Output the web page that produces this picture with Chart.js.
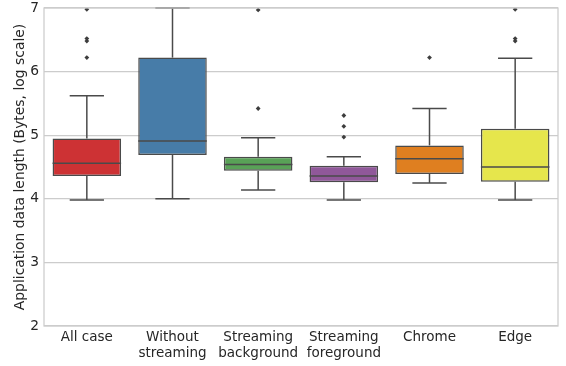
<!DOCTYPE html>
<html>
<head>
<meta charset="utf-8">
<script src="https://cdn.jsdelivr.net/npm/chart.js@4.4.0/dist/chart.umd.min.js"></script>
<style>
html, body { margin: 0; padding: 0; background: #fff; }
#wrap { width: 566px; height: 366px; }
</style>
</head>
<body>
<div id="wrap"><canvas id="boxChart"></canvas></div>
<script>
// categories
var labels = [['All case'], ['Without', 'streaming'], ['Streaming', 'background'], ['Streaming', 'foreground'], ['Chrome'], ['Edge']];
// box statistics (log10 bytes)
var lowWhisker  = [3.98, 4.00, 4.14, 3.98, 4.25, 3.98];
var q1          = [4.36, 4.69, 4.44, 4.26, 4.39, 4.27];
var median      = [4.56, 4.91, 4.54, 4.36, 4.63, 4.50];
var q3          = [4.95, 6.22, 4.66, 4.52, 4.84, 5.10];
var highWhisker = [5.62, 7.00, 4.96, 4.66, 5.42, 6.21];
var outliers = [
  [6.98, 6.52, 6.48, 6.22],
  [],
  [6.97, 5.42],
  [5.31, 5.14, 4.97],
  [6.22],
  [6.98, 6.52, 6.48]
];
var yTicks = [2, 3, 4, 5, 6, 7];

var colors = ['#cd3234', '#477ca8', '#59a257', '#90589a', '#df7f20', '#e6e64c'];
var lineColor = '#4a4a4a';
var gridColor = '#cccccc';
var textColor = '#262626';
var fontFamily = "'DejaVu Sans', sans-serif";

var boxes = [];
for (var i = 0; i < q1.length; i++) boxes.push([q1[i], q3[i]]);

// one point dataset per outlier rank, null where a category has none
var maxOut = Math.max.apply(null, outliers.map(function (a) { return a.length; }));
var flierSets = [];
for (var k = 0; k < maxOut; k++) {
  flierSets.push({
    type: 'line',
    data: outliers.map(function (a) { return a.length > k ? a[k] : null; }),
    showLine: false,
    spanGaps: false,
    pointStyle: 'rectRot',
    pointRadius: 2.4,
    pointBackgroundColor: '#3d3d3d',
    pointBorderColor: '#3d3d3d',
    pointBorderWidth: 0
  });
}

// whiskers, caps and medians drawn with the chart's scales
var boxParts = {
  id: 'boxParts',
  beforeDatasetsDraw: function (chart) {
    var ctx = chart.ctx, y = chart.scales.y;
    var meta = chart.getDatasetMeta(0);
    ctx.save();
    ctx.strokeStyle = lineColor;
    ctx.lineWidth = 1.5;
    meta.data.forEach(function (bar, i) {
      var cx = bar.x, half = bar.width / 4;
      var pts = [[q3[i], highWhisker[i]], [q1[i], lowWhisker[i]]];
      pts.forEach(function (p) {
        ctx.beginPath();
        ctx.moveTo(cx, y.getPixelForValue(p[0]));
        ctx.lineTo(cx, y.getPixelForValue(p[1]));
        ctx.stroke();
        ctx.beginPath();
        ctx.moveTo(cx - half, y.getPixelForValue(p[1]));
        ctx.lineTo(cx + half, y.getPixelForValue(p[1]));
        ctx.stroke();
      });
    });
    ctx.restore();
  },
  afterDatasetsDraw: function (chart) {
    var ctx = chart.ctx, y = chart.scales.y, a = chart.chartArea;
    var meta = chart.getDatasetMeta(0);
    ctx.save();
    ctx.strokeStyle = lineColor;
    ctx.lineWidth = 1.5;
    meta.data.forEach(function (bar, i) {
      var py = y.getPixelForValue(median[i]);
      ctx.beginPath();
      ctx.moveTo(bar.x - bar.width / 2, py);
      ctx.lineTo(bar.x + bar.width / 2, py);
      ctx.stroke();
    });
    // frame
    ctx.strokeStyle = gridColor;
    ctx.lineWidth = 1.25;
    ctx.strokeRect(a.left, a.top, a.right - a.left, a.bottom - a.top);
    ctx.restore();
  }
};

new Chart(document.getElementById('boxChart').getContext('2d'), {
  type: 'bar',
  data: {
    labels: labels,
    datasets: [{
      data: boxes,
      backgroundColor: colors,
      borderColor: lineColor,
      borderWidth: 1.5,
      borderSkipped: false,
      barPercentage: 0.8,
      categoryPercentage: 1.0
    }].concat(flierSets)
  },
  plugins: [boxParts],
  options: {
    responsive: true,
    maintainAspectRatio: false,
    animation: false,
    layout: { padding: { left: 0, right: 8, top: 8, bottom: 0 } },
    plugins: { legend: { display: false }, tooltip: { enabled: false } },
    scales: {
      x: {
        grid: { display: false, drawTicks: false },
        border: { display: false },
        ticks: {
          color: textColor,
          padding: 4,
          maxRotation: 0,
          autoSkip: false,
          font: { family: fontFamily, size: 13.5, lineHeight: 1.15 }
        },
        afterFit: function (s) { s.height = 40; s.paddingLeft = 0; s.paddingRight = 0; }
      },
      y: {
        min: 2,
        max: 7,
        afterBuildTicks: function (s) { s.ticks = yTicks.map(function (v) { return { value: v }; }); },
        grid: { color: gridColor, lineWidth: 1.25, drawTicks: false },
        border: { display: false },
        ticks: {
          color: textColor,
          padding: 5,
          font: { family: fontFamily, size: 13.8 }
        },
        title: {
          display: true,
          text: 'Application data length (Bytes, log scale)',
          color: textColor,
          padding: { top: 12.5, bottom: 0 },
          font: { family: fontFamily, size: 13.9, lineHeight: 1.2 }
        },
        afterFit: function (s) { s.width = 44; s.paddingTop = 0; s.paddingBottom = 0; }
      }
    }
  }
});
</script>
</body>
</html>
